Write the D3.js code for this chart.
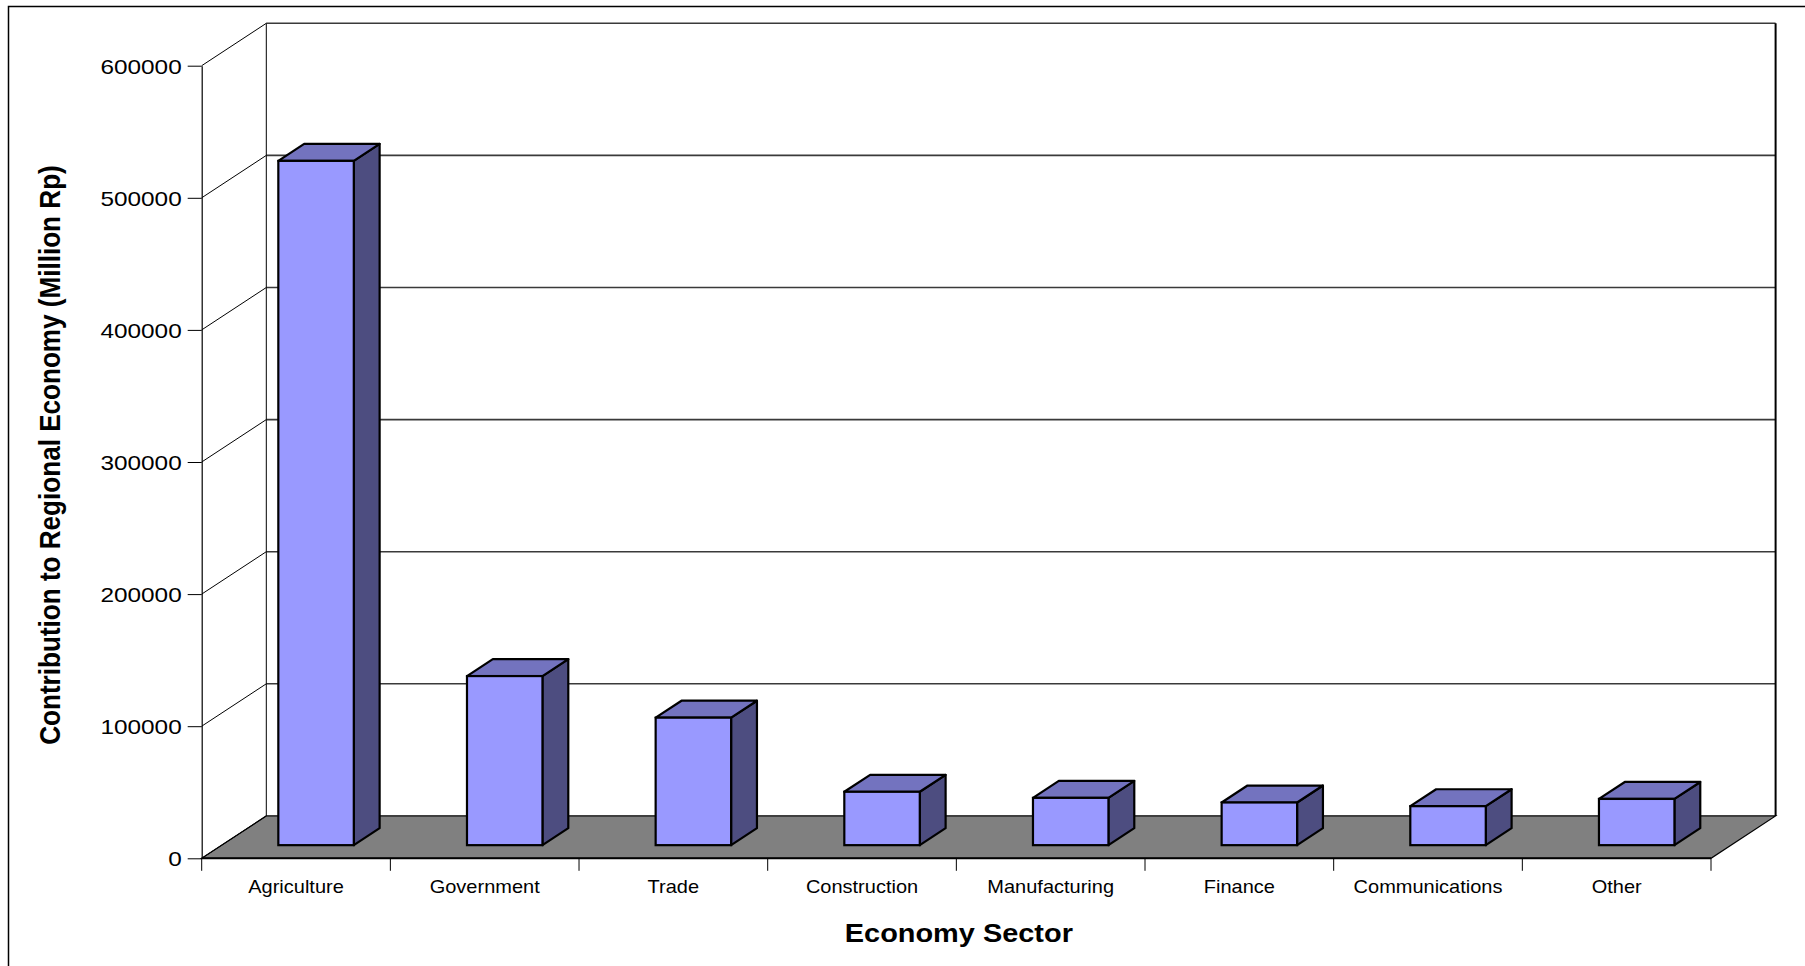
<!DOCTYPE html>
<html>
<head>
<meta charset="utf-8">
<script src="https://cdnjs.cloudflare.com/ajax/libs/d3/7.8.5/d3.min.js"></script>
<style>
  html, body { margin: 0; padding: 0; background: #fff; }
  svg { display: block; }
  text { font-family: "Liberation Sans", Arial, sans-serif; fill: #000; }
</style>
</head>
<body>
<svg id="chart" width="1805" height="966"></svg>
<script>
// ---- data ----
const categories = ["Agriculture", "Government", "Trade", "Construction", "Manufacturing", "Finance", "Communications", "Other"];
const values = [518000, 128000, 96500, 40400, 35800, 32300, 29500, 35000];
const yTicks = [0, 100000, 200000, 300000, 400000, 500000, 600000];
const yTitle = "Contribution to Regional Economy (Million Rp)";
const xTitle = "Economy Sector";

// ---- layout ----
const W = 1805, H = 966;
const plotL = 201.7, plotR = 1711, plotB = 858.3, plotT = 65.7;
const DX = 64.6, DY = 42.4;           // depth projection of the whole plot
const d0 = 0.31, d1 = 0.71;           // bar depth (front, back) fractions
const SX = 1.13;                      // horizontal text stretch

const colFront = "#9999FF", colTop = "#7373BF", colSide = "#4D4D80", colFloor = "#808080";

const svg = d3.select("#chart");

const y = d3.scaleLinear().domain([0, 600000]).range([plotB, plotT]);
const xCat = d3.scaleBand().domain(categories).range([plotL, plotR]).padding(0);
const xBar = d3.scaleBand().domain(categories).range([plotL, plotR]).paddingInner(0.6).paddingOuter(0.3);

// outer border
svg.append("rect").attr("x", 8.5).attr("y", 6.5).attr("width", W).attr("height", H)
  .attr("fill", "none").attr("stroke", "#000").attr("stroke-width", 1.5);

// back wall
const yMax = y(600000), y0 = y(0);
svg.append("rect")
  .attr("x", plotL + DX).attr("y", yMax - DY)
  .attr("width", plotR - plotL).attr("height", y0 - yMax)
  .attr("fill", "#fff").attr("stroke", "none");

// floor
svg.append("path")
  .attr("d", `M${plotL},${y0} L${plotL + DX},${y0 - DY} L${plotR + DX},${y0 - DY} L${plotR},${y0} Z`)
  .attr("fill", colFloor).attr("stroke", "#000").attr("stroke-width", 1.2);
svg.append("line").attr("x1", plotL).attr("x2", plotR).attr("y1", y0).attr("y2", y0)
  .attr("stroke", "#000").attr("stroke-width", 2);

// back wall gridlines
svg.append("g").selectAll("line").data(yTicks.filter(d => d > 0)).join("line")
  .attr("x1", plotL + DX).attr("x2", plotR + DX)
  .attr("y1", d => y(d) - DY).attr("y2", d => y(d) - DY)
  .attr("stroke", "#3a3a3a").attr("stroke-width", 1.6);

// left wall diagonal gridlines
svg.append("g").selectAll("line").data(yTicks).join("line")
  .attr("x1", plotL).attr("x2", plotL + DX)
  .attr("y1", d => y(d)).attr("y2", d => y(d) - DY)
  .attr("stroke", "#000").attr("stroke-width", 1);

// back wall left & right edges
svg.append("line").attr("x1", plotL + DX).attr("x2", plotL + DX).attr("y1", yMax - DY).attr("y2", y0 - DY)
  .attr("stroke", "#000").attr("stroke-width", 1);
svg.append("line").attr("x1", plotR + DX).attr("x2", plotR + DX).attr("y1", yMax - DY).attr("y2", y0 - DY)
  .attr("stroke", "#000").attr("stroke-width", 2);

// y axis
const yAxis = svg.append("g").attr("transform", `translate(${plotL},0)`)
  .call(d3.axisLeft(y).tickValues(yTicks).tickSize(14).tickSizeOuter(0).tickFormat(d3.format("d")));
yAxis.select(".domain").attr("stroke", "#000").attr("stroke-width", 1.2);
yAxis.selectAll(".tick line").attr("stroke", "#000").attr("stroke-width", 1);
yAxis.selectAll(".tick text")
  .attr("x", -20 / 1.16).attr("dy", "0.36em")
  .attr("transform", `scale(1.16,1)`)
  .style("font-family", '"Liberation Sans", Arial, sans-serif')
  .style("font-size", "21px").attr("fill", "#000");

// category ticks at boundaries
const bounds = categories.map(c => xCat(c)).concat([plotR]);
svg.append("g").selectAll("line").data(bounds).join("line")
  .attr("x1", d => d).attr("x2", d => d).attr("y1", y0).attr("y2", y0 + 12.5)
  .attr("stroke", "#000").attr("stroke-width", 1);

// category labels
svg.append("g").selectAll("text").data(categories).join("text")
  .attr("transform", d => `translate(${xCat(d) + xCat.bandwidth() / 2},892.7) scale(${SX},1)`)
  .attr("text-anchor", "middle")
  .style("font-size", "17.7px")
  .text(d => d);

// bars
const bw = xBar.bandwidth();
const ddx = DX * (d1 - d0), ddy = DY * (d1 - d0);
const bars = svg.append("g").selectAll("g").data(categories.map((c, i) => ({ c, v: values[i] }))).join("g");
bars.each(function (d) {
  const g = d3.select(this);
  const x0 = xBar(d.c) + DX * d0, x1 = x0 + bw;
  const yb = y(0) - DY * d0, yt = y(d.v) - DY * d0;
  g.append("path")
    .attr("d", `M${x1},${yt} L${x1 + ddx},${yt - ddy} L${x1 + ddx},${yb - ddy} L${x1},${yb} Z`)
    .attr("fill", colSide).attr("stroke", "#000").attr("stroke-width", 2.2).attr("stroke-linejoin", "round");
  g.append("path")
    .attr("d", `M${x0},${yt} L${x1},${yt} L${x1 + ddx},${yt - ddy} L${x0 + ddx},${yt - ddy} Z`)
    .attr("fill", colTop).attr("stroke", "#000").attr("stroke-width", 2.2).attr("stroke-linejoin", "round");
  g.append("rect")
    .attr("x", x0).attr("y", yt).attr("width", bw).attr("height", yb - yt)
    .attr("fill", colFront).attr("stroke", "#000").attr("stroke-width", 2.2);
});

// axis titles
svg.append("text")
  .attr("transform", `translate(${(plotL + plotR) / 2 + 2.5},941.7) scale(${SX},1)`)
  .attr("text-anchor", "middle")
  .style("font-size", "25.6px").style("font-weight", "bold")
  .text(xTitle);

svg.append("text")
  .attr("transform", `translate(60,455) rotate(-90) scale(1,${SX})`)
  .attr("text-anchor", "middle")
  .style("font-size", "26.1px").style("font-weight", "bold")
  .text(yTitle);
</script>
</body>
</html>
